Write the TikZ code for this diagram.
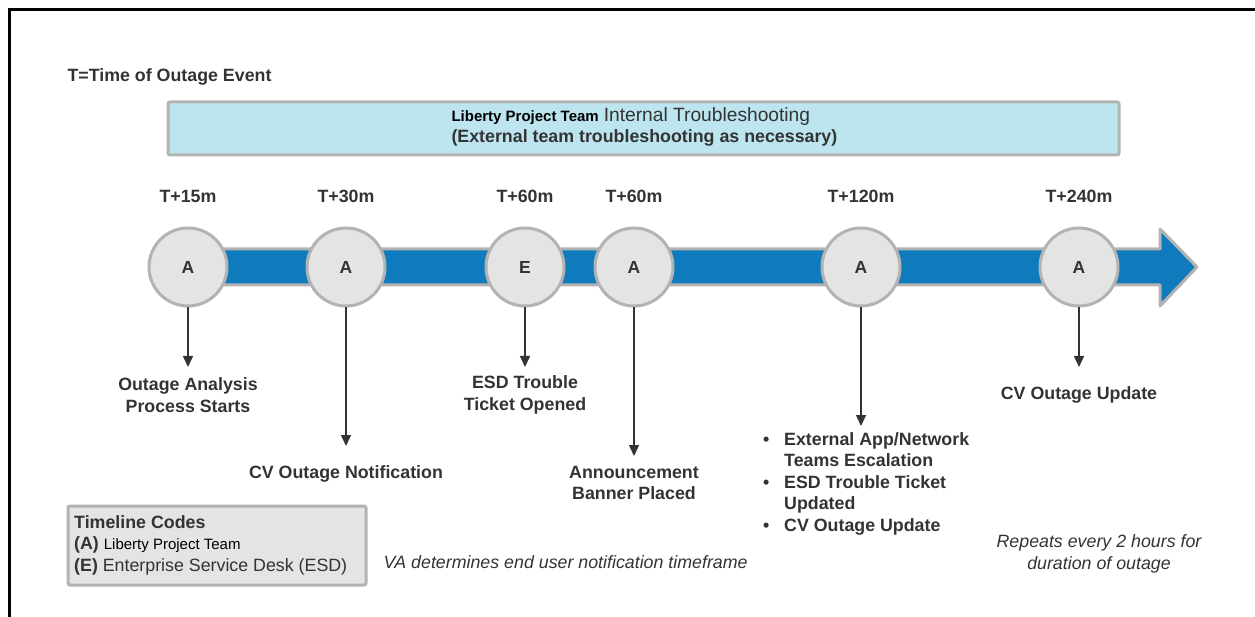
\documentclass[tikz,border=0pt]{standalone}
\usepackage{fontspec}
\setmainfont{Liberation Sans}
\usetikzlibrary{arrows.meta}
\definecolor{txt}{HTML}{333333}
\definecolor{bandblue}{HTML}{0F7BBC}
\definecolor{lightblue}{HTML}{BCE5EF}
\definecolor{circfill}{HTML}{E4E4E4}
\definecolor{edgegray}{HTML}{B3B3B3}
\tikzset{
  every node/.style={text=txt, font=\fontsize{17.8}{21.5}\selectfont},
  evt/.style={circle, draw=edgegray, line width=3pt, fill=circfill, minimum size=78pt, inner sep=0pt, font=\fontsize{17.5}{20}\selectfont\bfseries},
  tlabel/.style={font=\fontsize{17.8}{21.5}\selectfont\bfseries},
  desc/.style={align=center, font=\fontsize{17.8}{21.5}\selectfont\bfseries},
  conn/.style={draw=txt, line width=1.4pt, -{Triangle[length=11pt,width=10pt]}},
  note/.style={align=center, font=\fontsize{17.8}{21.5}\selectfont\itshape},
  panel/.style={draw=edgegray, line width=3pt, rounded corners=2pt}
}
\begin{document}
\begin{tikzpicture}[x=1pt,y=-1pt]
\useasboundingbox (0,0) rectangle (1255,617);
% frame
\draw[line width=3pt] (9,617) -- (9,10) -- (1256,10);
% header
\node[anchor=west, font=\fontsize{17.8}{20}\selectfont\bfseries] (hdr) at (64,77) {T=Time of Outage Event};
% troubleshooting banner
\draw[panel, fill=lightblue] (168,102) rectangle (1119,155);
\node[anchor=west, align=left] (ts) at (448,127)
  {{\color{black}\fontsize{15}{21.5}\selectfont\bfseries Liberty Project Team} {\fontsize{19.2}{21.5}\selectfont Internal Troubleshooting}\\
   \bfseries (External team troubleshooting as necessary)};
% timeline band arrow
\draw[draw=edgegray, line width=3pt, fill=bandblue, line join=round]
  (200,249) -- (1160,249) -- (1160,229) -- (1197,267) -- (1160,306) -- (1160,285) -- (200,285) -- cycle;
% time labels
\foreach \x/\t/\n in {188/T+15m/l1, 346/T+30m/l2, 525/T+60m/l3, 634/T+60m/l4, 861/T+120m/l5, 1079/T+240m/l6}
  \node[tlabel] (\n) at (\x,196) {\t};
% events
\node[evt] (c1) at (188,267) {A};
\node[evt] (c2) at (346,267) {A};
\node[evt] (c3) at (525,267) {E};
\node[evt] (c4) at (634,267) {A};
\node[evt] (c5) at (861,267) {A};
\node[evt] (c6) at (1079,267) {A};
% connector ends
\coordinate (e1) at (188,367);
\coordinate (e2) at (346,446);
\coordinate (e3) at (525,367);
\coordinate (e4) at (634,456);
\coordinate (e5) at (861,426);
\coordinate (e6) at (1079,367);
\draw[conn] (c1.south) -- (e1);
\draw[conn] (c2.south) -- (e2);
\draw[conn] (c3.south) -- (e3);
\draw[conn] (c4.south) -- (e4);
\draw[conn] (c5.south) -- (e5);
\draw[conn] (c6.south) -- (e6);
% descriptions
\node[desc] (d1) at (188,395) {Outage Analysis\\Process Starts};
\node[desc] (d2) at (346,474) {CV Outage Notification};
\node[desc] (d3) at (525,395) {ESD Trouble\\Ticket Opened};
\node[desc] (d4) at (634,483) {Announcement\\Banner Placed};
\node[desc, anchor=north west, align=left, inner sep=0pt] (d5) at (761,432)
  {\makebox[23pt][l]{\hspace{2pt}\textbullet}External App/Network\\
   \hspace*{23pt}Teams Escalation\\
   \makebox[23pt][l]{\hspace{2pt}\textbullet}ESD Trouble Ticket\\
   \hspace*{23pt}Updated\\
   \makebox[23pt][l]{\hspace{2pt}\textbullet}CV Outage Update};
\node[desc] (d6) at (1079,395) {CV Outage Update};
% legend
\draw[panel, fill=circfill] (68,506) rectangle (366,585);
\node[anchor=north west, align=left, inner sep=0pt] (leg) at (74,515)
  {\bfseries Timeline Codes\\
   {\bfseries (A)} {\fontsize{15}{21.5}\selectfont\color{black}Liberty Project Team}\\
   {\bfseries (E)} Enterprise Service Desk (ESD)};
% notes
\node[note, anchor=west] (n1) at (380,562) {VA determines end user notification timeframe};
\node[note] (n2) at (1099,554) {Repeats every 2 hours for\\duration of outage};
\end{tikzpicture}
\end{document}
